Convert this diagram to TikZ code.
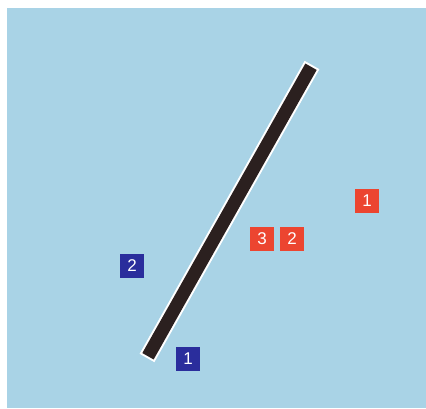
\documentclass[tikz,border=0pt]{standalone}
\usepackage{fontspec}
\setmainfont{Liberation Sans}
\usetikzlibrary{positioning}
\definecolor{sky}{HTML}{A9D3E6}
\definecolor{mirror}{HTML}{2B201F}
\definecolor{real}{HTML}{EC4530}
\definecolor{image}{HTML}{2A2D9C}

\begin{document}
\begin{tikzpicture}[
  x=1pt, y=-1pt,
  tag/.style={minimum size=24pt, inner sep=0pt, text=white,
    font=\fontsize{17}{17}\selectfont},
  realtag/.style={tag, fill=real},
  imagetag/.style={tag, fill=image}
]
  \useasboundingbox (0,0) rectangle (426,408);
  \fill[sky] (7,8) rectangle (426,408);

  % mirror
  \coordinate (mlow) at (147,358);
  \coordinate (mhigh) at (312,65);
  \draw[white, line width=17pt] (mlow) -- (mhigh);
  \draw[mirror, line width=13pt, shorten <=2pt, shorten >=2pt] (mlow) -- (mhigh);

  % object positions
  \node[realtag] (r1) at (367,201) {1};
  \node[realtag] (r3) at (262,239) {3};
  \node[realtag] (r2) at (292,239) {2};

  % images
  \node[imagetag] (i2) at (132,266) {2};
  \node[imagetag] (i1) at (188,359) {1};
\end{tikzpicture}
\end{document}
